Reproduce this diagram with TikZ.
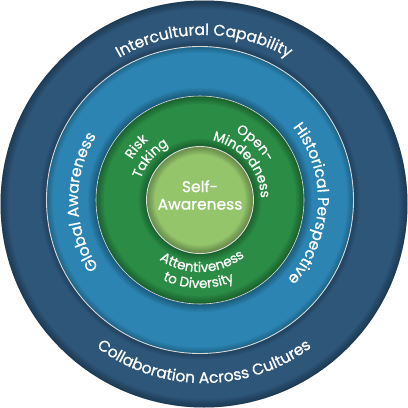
\documentclass[tikz,border=0pt]{standalone}
\usepackage{fontspec}
\setmainfont{Poppins}[FakeBold=0.9]
\usetikzlibrary{decorations.text}

\definecolor{ringdark}{HTML}{2D5679}
\definecolor{ringblue}{HTML}{2B84B1}
\definecolor{ringgreen}{HTML}{2A8C45}
\definecolor{corelight}{HTML}{94C56B}

\newcommand{\bigfont}{\fontsize{15.5}{17.5}\selectfont}
\newcommand{\smallfont}{\fontsize{13.5}{15}\selectfont}

\begin{document}
\begin{tikzpicture}[x=1pt,y=1pt,
            ring text/.style={decorate, decoration={text along path, text align=center, text color=white}},
            edge line/.style={draw=white!85!black, line width=0.9pt},
            shade ring/.style={black, opacity=0.04, line width=#1},
            ]
            \def\Ro{203.5}
            \def\Rb{153.5}
            \def\Rg{104}
            \def\Rc{53.5}

            \useasboundingbox (0,0) rectangle (408,-408);
            \coordinate (o) at (204,-204);
            \coordinate (c) at (200,-200);

            % outer ring
            \fill[ringdark] (o) circle (\Ro);
            \begin{scope}
                \clip (o) circle (\Ro);
                \foreach \w in {2,4,...,16} \draw[shade ring=\w pt] (o) circle (\Ro);
            \end{scope}

            % blue ring
            \fill[ringblue] (c) circle (\Rb);
            \foreach \w in {2,4,...,12} \draw[shade ring=\w pt] (c) circle (\Rb);
            \draw[edge line] (c) circle (\Rb);

            % green ring
            \fill[ringgreen] (c) circle (\Rg);
            \foreach \w in {2,4,...,16} \draw[shade ring=\w pt] (c) circle (\Rg);
            \draw[edge line, line width=0.6pt] (c) circle (\Rg);

            % core
            \fill[corelight] (c) circle (\Rc);
            \foreach \w in {2,4,...,16} \draw[shade ring=\w pt] (c) circle (\Rc);
            \draw[edge line] (c) circle (\Rc);

            \path[ring text, decoration={text={|\bigfont|Intercultural Capability}}]
                ([shift={(170:169)}]o) arc[start angle=170, end angle=10, radius=169];
            \path[ring text, decoration={text={|\bigfont|Collaboration Across Cultures}}]
                ([shift={(180:179)}]o) arc[start angle=180, end angle=360, radius=179];
            \path[ring text, decoration={text={|\bigfont|Global Awareness}}]
                ([shift={(261:122)}]c) arc[start angle=261, end angle=101, radius=122];
            \path[ring text, decoration={text={|\bigfont|Historical Perspective}}]
                ([shift={(78:118)}]c) arc[start angle=78, end angle=-82, radius=118];

            \path[ring text, decoration={text={|\smallfont|Risk}}]
                ([shift={(200:79)}]c) arc[start angle=200, end angle=80, radius=79];
            \path[ring text, decoration={text={|\smallfont|Taking}}]
                ([shift={(200:63)}]c) arc[start angle=200, end angle=80, radius=63];
            \path[ring text, decoration={text={|\smallfont|Open-}}]
                ([shift={(106:77)}]c) arc[start angle=106, end angle=-14, radius=77];
            \path[ring text, decoration={text={|\smallfont|Mindedness}}]
                ([shift={(100:61)}]c) arc[start angle=100, end angle=-20, radius=61];
            \path[ring text, decoration={text={|\smallfont|Attentiveness}}]
                ([shift={(212:72)}]c) arc[start angle=212, end angle=332, radius=72];
            \path[ring text, decoration={text={|\smallfont|to Diversity}}]
                ([shift={(209:88)}]c) arc[start angle=209, end angle=329, radius=88];

            \node[text=white, align=center, font=\bigfont] (self) at (200,-195) {Self-\\Awareness};
        \end{tikzpicture}
\end{document}
